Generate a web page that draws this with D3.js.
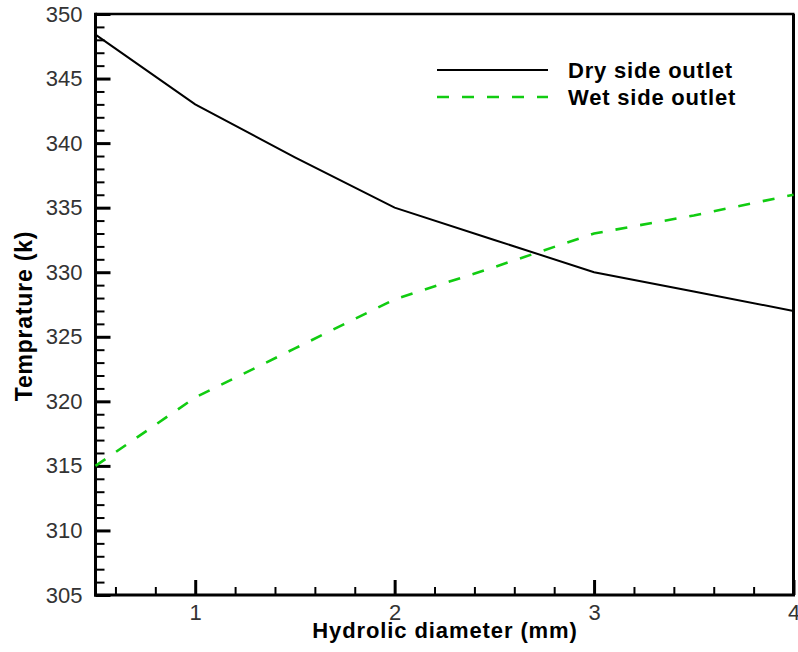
<!DOCTYPE html>
<html>
<head>
<meta charset="utf-8">
<script src="https://cdn.jsdelivr.net/npm/d3@7"></script>
<style>
  html, body { margin: 0; padding: 0; background: #fff; }
  svg { display: block; }
</style>
</head>
<body>
<svg id="chart" width="798" height="652"></svg>
<script>
// ---- data ----
const diameters = [0.5, 1, 1.5, 2, 2.5, 3, 3.5, 4];
const drySide   = [348.4, 343.0, 338.9, 335.0, 332.5, 330.0, 328.5, 327.0];
const wetSide   = [315.0, 320.3, 324.1, 327.9, 330.4, 333.0, 334.4, 336.0];
const seriesNames = ["Dry side outlet", "Wet side outlet"];
const xMajorTicks = [1, 2, 3, 4];
const yMajorTicks = [305, 310, 315, 320, 325, 330, 335, 340, 345, 350];
const xTitle = "Hydrolic diameter (mm)";
const yTitle = "Temprature (k)";

// ---- layout ----
const svg = d3.select("#chart");
const L = 95.5, R = 793.5, T = 14, B = 595;
const x = d3.scaleLinear().domain([0.5, 4]).range([L, R]);
const y = d3.scaleLinear().domain([305, 350]).range([B, T]);

const xMinor = d3.range(0.6, 4.0, 0.2).map(v => +v.toFixed(1)).filter(v => Math.abs(v - Math.round(v)) > 1e-6);
const yMinor = d3.range(306, 350, 1).filter(v => v % 5 !== 0);

const tickFont = "Liberation Sans, Arial, sans-serif";

// minor ticks
svg.append("g").attr("transform", `translate(0,${B})`)
  .call(d3.axisBottom(x).tickValues(xMinor).tickSize(-8).tickFormat(""))
  .call(g => g.select(".domain").remove())
  .call(g => g.selectAll("line").attr("stroke", "#000").attr("stroke-width", 2));
svg.append("g").attr("transform", `translate(${L},0)`)
  .call(d3.axisLeft(y).tickValues(yMinor).tickSize(-9).tickFormat(""))
  .call(g => g.select(".domain").remove())
  .call(g => g.selectAll("line").attr("stroke", "#000").attr("stroke-width", 2));

// major ticks
const gx = svg.append("g").attr("transform", `translate(0,${B})`)
  .call(d3.axisBottom(x).tickValues(xMajorTicks).tickSize(-15).tickPadding(9).tickFormat(d3.format("d")));
gx.select(".domain").remove();
gx.selectAll("line").attr("stroke", "#000").attr("stroke-width", 3);
gx.selectAll("text").attr("font-family", tickFont).attr("font-size", 22).attr("fill", "#333");

const gy = svg.append("g").attr("transform", `translate(${L},0)`)
  .call(d3.axisLeft(y).tickValues(yMajorTicks).tickSize(-15).tickPadding(13).tickFormat(d3.format("d")));
gy.select(".domain").remove();
gy.selectAll("line").attr("stroke", "#000").attr("stroke-width", 3);
gy.selectAll("text").attr("font-family", tickFont).attr("font-size", 22).attr("fill", "#333");

// frame
const frame = svg.append("g").attr("stroke", "#000").attr("fill", "none");
frame.append("line").attr("x1", L).attr("x2", R + 1).attr("y1", T).attr("y2", T).attr("stroke-width", 2.5);
frame.append("line").attr("x1", R).attr("x2", R).attr("y1", T).attr("y2", B).attr("stroke-width", 3);
frame.append("line").attr("x1", L).attr("x2", L).attr("y1", T - 1.2).attr("y2", B + 1.5).attr("stroke-width", 3);
frame.append("line").attr("x1", L - 1.5).attr("x2", R + 1.5).attr("y1", B).attr("y2", B).attr("stroke-width", 3);

// lines
const line = d3.line().x(d => x(d[0])).y(d => y(d[1]));
svg.append("path")
  .datum(diameters.map((d, i) => [d, drySide[i]]))
  .attr("d", line).attr("fill", "none").attr("stroke", "#000").attr("stroke-width", 2);
svg.append("path")
  .datum(diameters.map((d, i) => [d, wetSide[i]]))
  .attr("d", line).attr("fill", "none").attr("stroke", "#11cc11").attr("stroke-width", 2.6)
  .attr("stroke-dasharray", "12,13");

// legend
const leg = svg.append("g");
leg.append("line").attr("x1", 437).attr("x2", 548).attr("y1", 70).attr("y2", 70)
  .attr("stroke", "#000").attr("stroke-width", 2);
leg.append("line").attr("x1", 437).attr("x2", 548).attr("y1", 97).attr("y2", 97)
  .attr("stroke", "#11cc11").attr("stroke-width", 2.6).attr("stroke-dasharray", "12,13");
leg.selectAll("text.leg").data(seriesNames).join("text")
  .attr("class", "leg")
  .attr("x", 568).attr("y", (d, i) => 78 + i * 27)
  .attr("font-family", tickFont).attr("font-weight", "bold").attr("font-size", 22)
  .attr("letter-spacing", 0.8).attr("fill", "#000")
  .text(d => d);

// titles
svg.append("text")
  .attr("x", 445).attr("y", 638).attr("text-anchor", "middle")
  .attr("font-family", tickFont).attr("font-weight", "bold").attr("font-size", 22)
  .attr("letter-spacing", 0.9).attr("fill", "#000")
  .text(xTitle);
svg.append("text")
  .attr("transform", "translate(32,316) rotate(-90)").attr("text-anchor", "middle")
  .attr("font-family", tickFont).attr("font-weight", "bold").attr("font-size", 23)
  .attr("letter-spacing", 0.8).attr("fill", "#000")
  .text(yTitle);
</script>
</body>
</html>
